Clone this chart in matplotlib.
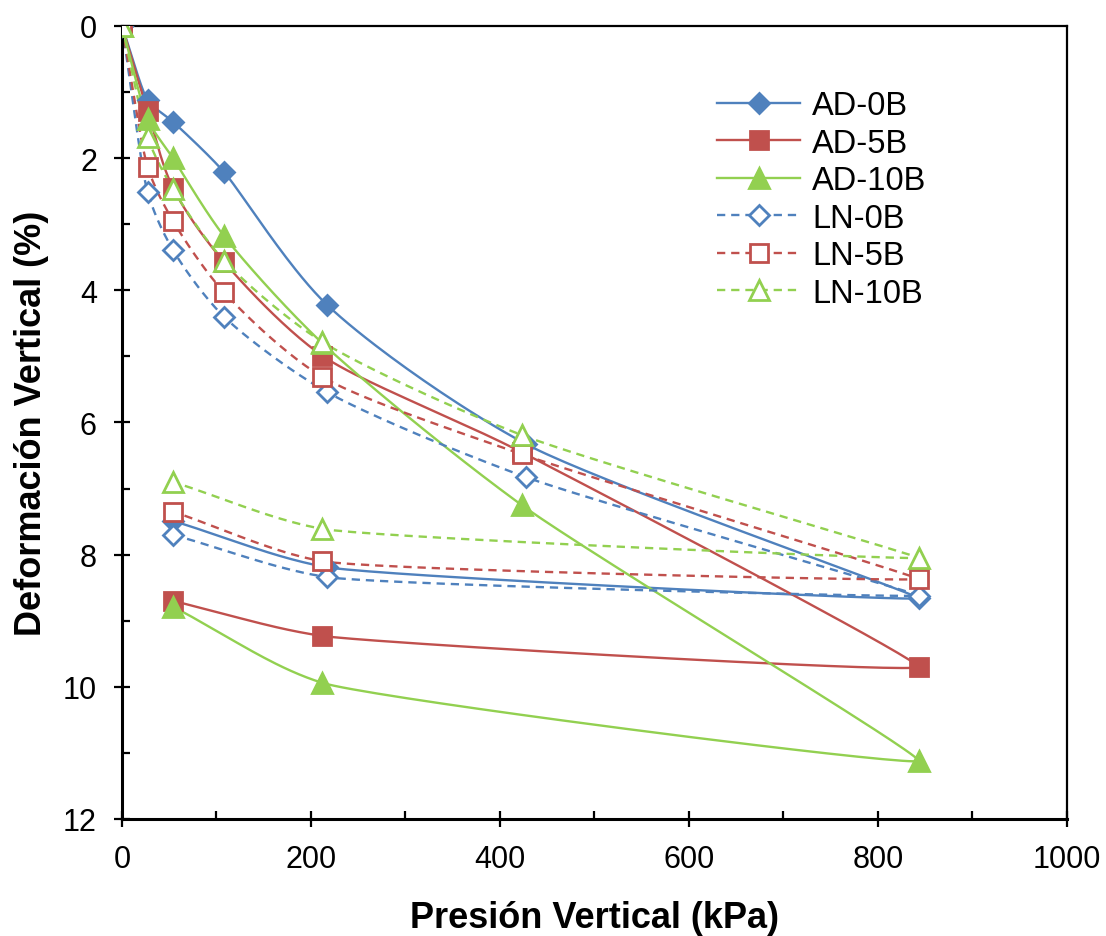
import numpy as np
import matplotlib
matplotlib.use("Agg")
import matplotlib.pyplot as plt
from matplotlib.ticker import MultipleLocator

plt.rcParams['font.family'] = ['Liberation Sans', 'DejaVu Sans']

# loading (0 -> 843 kPa) then unloading back to ~54 kPa
x_blue = [0, 27, 54, 108, 217, 428, 843, 217, 54]
x_rg = [0, 27, 54, 108, 212, 423, 843, 212, 54]

ad_0b = [0, 1.12, 1.45, 2.21, 4.22, 6.33, 8.66, 8.19, 7.49]
ad_5b = [0, 1.28, 2.45, 3.57, 4.99, 6.45, 9.70, 9.23, 8.70]
ad_10b = [0, 1.41, 2.00, 3.18, 4.80, 7.25, 11.12, 9.94, 8.79]
ln_0b = [0, 2.51, 3.39, 4.40, 5.54, 6.83, 8.62, 8.34, 7.70]
ln_5b = [0, 2.13, 2.95, 4.03, 5.31, 6.48, 8.37, 8.10, 7.35]
ln_10b = [0, 1.68, 2.47, 3.55, 4.78, 6.19, 8.05, 7.61, 6.90]

BLUE = '#4F81BD'
RED = '#C0504D'
GREEN = '#92D050'


def smooth(xs, ys, sx=0.945, sy=66.1, n=40):
    # cubic bezier through the points in pixel-like units, Excel-ish smoothing;
    # arms limited by the shorter neighbour segment, shrunk at sharp turns
    p = np.column_stack([np.array(xs) * sx, np.array(ys) * sy])
    m = len(p)
    seg = np.diff(p, axis=0)
    L = np.hypot(seg[:, 0], seg[:, 1])
    u = seg / L[:, None]
    d = np.zeros_like(p)
    arm = np.zeros(m)
    d[0], arm[0] = u[0], L[0] / 3
    d[-1], arm[-1] = u[-1], L[-1] / 3
    for i in range(1, m - 1):
        b = u[i - 1] + u[i]
        nb = np.hypot(*b)
        k = max(0.0, (1 + np.dot(u[i - 1], u[i])) / 2)
        d[i] = b / nb * k if nb > 1e-9 else 0
        arm[i] = min(L[i - 1], L[i]) / 3
    out = []
    t = np.linspace(0, 1, n)[:, None]
    for i in range(m - 1):
        p0 = p[i]
        p3 = p[i + 1]
        p1 = p0 + d[i] * min(arm[i], L[i] / 3)
        p2 = p3 - d[i + 1] * min(arm[i + 1], L[i] / 3)
        c = ((1 - t) ** 3) * p0 + 3 * ((1 - t) ** 2) * t * p1 + 3 * (1 - t) * t ** 2 * p2 + t ** 3 * p3
        out.append(c)
    c = np.vstack(out)
    return c[:, 0] / sx, c[:, 1] / sy


fig = plt.figure(figsize=(11.06, 9.37), dpi=100)
ax = fig.add_axes([0.1103, 0.1249, 0.8544, 0.8463])

series = [
    ('AD-0B', x_blue, ad_0b, BLUE, '-', 'D', True, 10),
    ('AD-5B', x_rg, ad_5b, RED, '-', 's', True, 13),
    ('AD-10B', x_rg, ad_10b, GREEN, '-', '^', True, 14),
    ('LN-0B', x_blue, ln_0b, BLUE, (0, (3.5, 2.5)), 'D', False, 10),
    ('LN-5B', x_rg, ln_5b, RED, (0, (3.5, 2.5)), 's', False, 13),
    ('LN-10B', x_rg, ln_10b, GREEN, (0, (3.5, 2.5)), '^', False, 14),
]

for name, xs, ys, col, ls, mk, filled, ms in series:
    sxv, syv = smooth(xs, ys)
    ax.plot(sxv, syv, color=col, lw=1.7, ls=ls, zorder=2)
    ax.plot(xs, ys, ls='none', marker=mk, ms=ms, mec=col, mew=2,
            mfc=col if filled else 'white', zorder=3)
    ax.plot([], [], color=col, lw=1.7, ls=ls, marker=mk, ms=ms, mec=col, mew=2,
            mfc=col if filled else 'white', label=name)

ax.set_xlim(0, 1000)
ax.set_ylim(12, 0)
ax.xaxis.set_major_locator(MultipleLocator(200))
ax.xaxis.set_minor_locator(MultipleLocator(100))
ax.yaxis.set_major_locator(MultipleLocator(2))
ax.yaxis.set_minor_locator(MultipleLocator(1))
ax.tick_params(which='major', direction='inout', length=12, width=1.6, labelsize=22, pad=12)
ax.tick_params(which='minor', direction='in', length=6, width=1.6)
for s in ['left', 'bottom']:
    ax.spines[s].set_linewidth(2.2)
for s in ['top', 'right']:
    ax.spines[s].set_linewidth(1.6)

ax.set_xlabel('Presión Vertical (kPa)', fontsize=26, fontweight='bold', labelpad=19)
ax.set_ylabel('Deformación Vertical (%)', fontsize=26, fontweight='bold', labelpad=10)

ax.legend(loc='upper left', bbox_to_anchor=(0.5986, 0.956), frameon=False, fontsize=23.5,
          handlelength=2.55, labelspacing=0.2, handletextpad=0.37)

fig.savefig('out.png', dpi=100)
